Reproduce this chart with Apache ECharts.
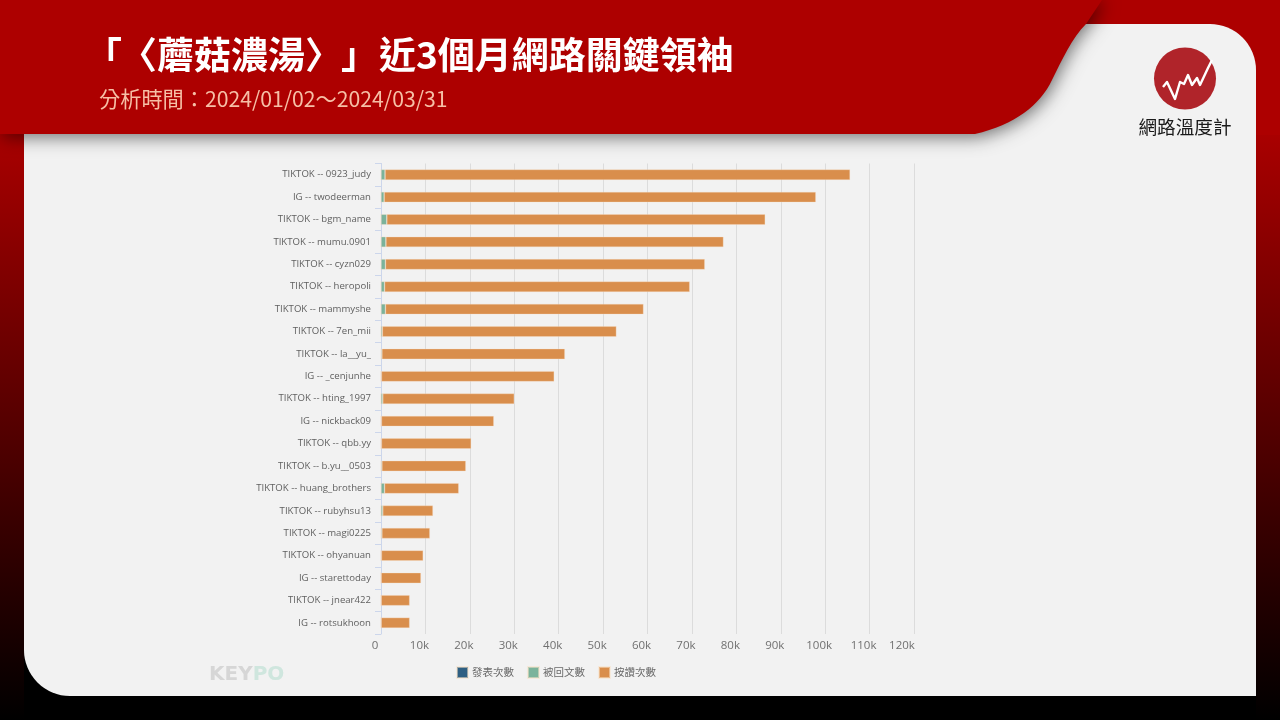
<!DOCTYPE html>
<html><head><meta charset="utf-8">
<style>html,body{margin:0;padding:0;background:#000}#c{width:1280px;height:720px}</style>
<script src="https://cdn.jsdelivr.net/npm/echarts@6/dist/echarts.min.js"></script>
</head><body><div id="c"></div>
<script>
const categories=["TIKTOK -- 0923_judy","IG -- twodeerman","TIKTOK -- bgm_name","TIKTOK -- mumu.0901","TIKTOK -- cyzn029","TIKTOK -- heropoli","TIKTOK -- mammyshe","TIKTOK -- 7en_mii","TIKTOK -- la__yu_","IG -- _cenjunhe","TIKTOK -- hting_1997","IG -- nickback09","TIKTOK -- qbb.yy","TIKTOK -- b.yu__0503","TIKTOK -- huang_brothers","TIKTOK -- rubyhsu13","TIKTOK -- magi0225","TIKTOK -- ohyanuan","IG -- starettoday","TIKTOK -- jnear422","IG -- rotsukhoon"];
const posts=[10,5,8,6,6,6,6,3,3,3,3,3,3,3,4,3,3,2,2,2,2];
const replies=[900,700,1300,1100,1000,800,1000,300,200,100,400,100,100,200,800,400,200,100,50,50,50];
const likes=[104700,97200,85200,76000,71900,68700,58100,52700,41200,38900,29600,25300,20200,18900,16700,11300,10800,9400,8950,6400,6400];
const legendNames=["發表次數","被回文數","按讚次數"];
const titleParts=["「","〈蘑菇濃湯〉","」","近3個月網路關鍵領袖"];
const subtitleText="分析時間：2024/01/02～2024/03/31";
const brandText="網路溫度計";
const CJK='"Noto Sans CJK TC","Noto Sans",sans-serif';
const UI='"Open Sans","Noto Sans CJK TC",sans-serif';
echarts.graphic.registerShape('headerBand',echarts.graphic.extendPath('M0,0 H1102 L1086,24 C1072,38 1062,60 1052,80 C1040,105 1015,125 975,134 H0 Z',{}));
const chart=echarts.init(document.getElementById('c'),null,{renderer:'canvas'});
const stripe=new echarts.graphic.LinearGradient(0,0,0,1,[{offset:0,color:'#ad0000'},{offset:1,color:'#000000'}]);
const bar=(name,data,color)=>({name,type:'bar',stack:'t',data,barWidth:10.5,itemStyle:{color,borderColor:'rgba(248,225,200,0.55)',borderWidth:0.6},emphasis:{disabled:true}});
const titleX=[85,120,341,379];
chart.setOption({
 animation:false,backgroundColor:'#000',
 grid:{left:381,top:163.5,width:533,height:470.5,containLabel:false},
 xAxis:{type:'value',min:0,max:120000,interval:10000,
  axisLine:{show:false},axisTick:{show:false},
  splitLine:{show:true,lineStyle:{color:'#dcdcdc',width:1}},
  axisLabel:{color:'#707070',fontFamily:UI,fontSize:11.5,margin:6,padding:[0,12,0,0],
   formatter:v=>v===0?'0':v===120000?'{last|120k}':(v/1000)+'k',
   rich:{last:{color:'#707070',fontFamily:UI,fontSize:11.5,padding:[0,12,0,0]}}}},
 yAxis:{type:'category',inverse:true,data:categories,
  axisLine:{show:true,lineStyle:{color:'#ccd6eb'}},
  axisTick:{show:true,length:6,lineStyle:{color:'#ccd6eb'}},
  axisLabel:{color:'#5f5f5f',fontFamily:UI,fontSize:9.6,margin:10,interval:0,padding:[2,0,0,0]}},
 legend:{data:legendNames,left:451,top:661,itemWidth:11,itemHeight:11,itemGap:13,icon:'rect',selectedMode:false,
  textStyle:{color:'#6a6a6a',fontFamily:CJK,fontSize:10.5,padding:[0,0,0,-1]}},
 series:[bar(legendNames[0],posts,'#2f5f82'),bar(legendNames[1],replies,'#7bb39b'),bar(legendNames[2],likes,'#d98e4c')],
 graphic:[
  {type:'rect',z:-20,shape:{x:0,y:0,width:1280,height:720},style:{fill:'#000'}},
  {type:'rect',z:-19,shape:{x:0,y:120,width:24,height:600},style:{fill:stripe}},
  {type:'rect',z:-19,shape:{x:1256,y:120,width:24,height:600},style:{fill:stripe}},
  {type:'rect',z:-19,shape:{x:0,y:0,width:1280,height:135},style:{fill:'#ad0000'}},
  {type:'rect',z:-18,shape:{x:24,y:24,width:1232,height:672,r:[0,46,0,46]},style:{fill:'#f2f2f2'}},
  {type:'headerBand',z:-17,style:{fill:'#ad0000',shadowColor:'rgba(0,0,0,0.55)',shadowBlur:18,shadowOffsetX:2,shadowOffsetY:3}},
  {type:'rect',z:-16,shape:{x:0,y:0,width:24,height:134},style:{fill:'#ad0000'}},
  ...titleParts.map((t,i)=>({type:'text',z:10,x:titleX[i],y:36,style:{text:t,fill:'#fff',font:'bold 37px '+CJK}})),
  {type:'text',z:10,x:99,y:88,style:{text:subtitleText,fill:'#f6bfa6',font:'21.2px '+CJK}},
  {type:'circle',z:10,shape:{cx:1185,cy:78.5,r:31},style:{fill:'#b0242a'}},
  {type:'polyline',z:11,shape:{points:[[1163,87],[1167,82],[1175,99],[1180,82],[1184,84],[1188,75],[1192,85],[1197,78],[1200,85],[1208,68],[1212,60]]},style:{stroke:'#fff',fill:'none',lineWidth:2.4,lineJoin:'round'}},
  {type:'text',z:10,x:1185,y:127,style:{text:brandText,fill:'#1a1a1a',font:'400 18.6px '+CJK,align:'center',verticalAlign:'middle'}},
  {type:'text',z:-5,x:209,y:665,style:{text:'{a|KEY}{b|PO}',font:'bold 20px "DejaVu Sans"',rich:{a:{fill:'#d6d6d6',font:'bold 20px "DejaVu Sans"'},b:{fill:'#cfe6de',font:'bold 20px "DejaVu Sans"'}}}}
 ]
});
</script></body></html>
